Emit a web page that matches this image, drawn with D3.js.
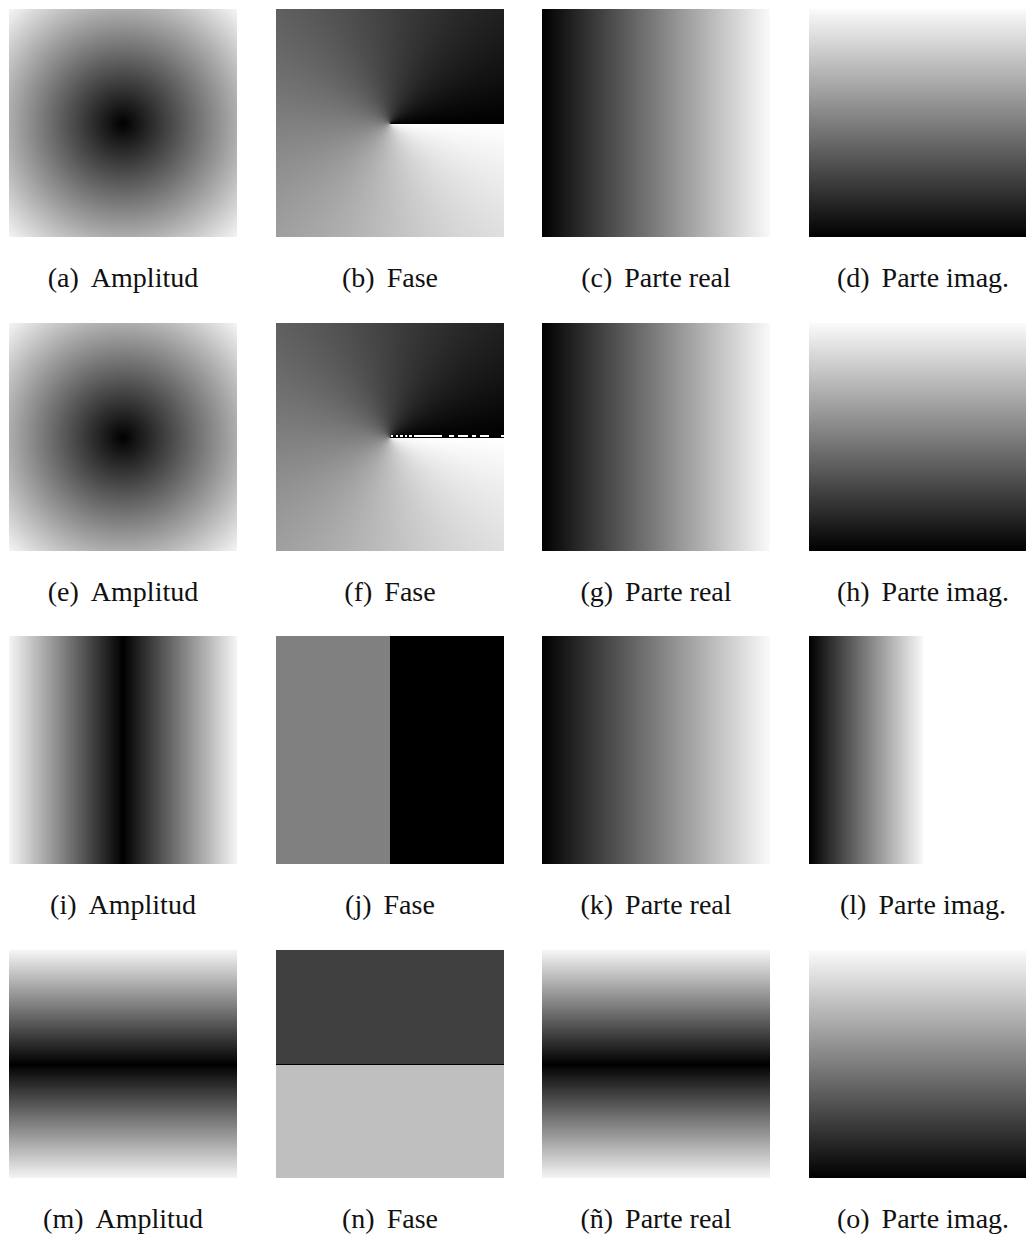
<!DOCTYPE html>
<html>
<head>
<meta charset="utf-8">
<script src="https://cdn.jsdelivr.net/npm/d3@7"></script>
<style>
  body { margin: 0; background: #fff; }
  svg { display: block; }
</style>
</head>
<body>
<svg id="fig" width="1026" height="1236"></svg>
<script>
// Sub-figure letters, in reading order (4 rows x 4 columns)
const letras = ["a", "b", "c", "d",
                "e", "f", "g", "h",
                "i", "j", "k", "l",
                "m", "n", "ñ", "o"];

// Component shown in each column
const componentes = ["Amplitud", "Fase", "Parte real", "Parte imag."];

// Scalar field shown in each panel, normalized to [0, 1]
//   radio  : |z| / |z|max          angulo : arg z / 2π in [0, 1)
//   x, y   : linear ramps          absx, absy : |x|, |y|
//   signox : arg of a real ramp    signoy : arg of an imaginary ramp
const campos = ["radio", "angulo", "x", "y",
                "radio", "angulo", "x", "y",
                "absx",  "signox", "x", "x",
                "absy",  "signoy", "absy", "y"];

// Gray level (0-255) at field value 0 and at field value 1
const tonos = [[0, 245], [0, 255], [0, 250], [0, 250],
               [0, 245], [0, 255], [0, 250], [0, 250],
               [0, 245], [0, 255], [0, 250], [0, 248],
               [0, 245], [0, 255], [0, 245], [0, 250]];

// Intervals of x (0..1 along the positive real axis) where the phase in (f)
// wraps to 2π on the row just above the cut
const ruidoCorte = [[0.01, 0.03], [0.05, 0.07], [0.09, 0.11], [0.13, 0.15],
                    [0.17, 0.19], [0.21, 0.46], [0.52, 0.56], [0.60, 0.68],
                    [0.72, 0.75], [0.79, 0.87], [0.97, 1.00]];

const campo = {
  radio:  (x, y) => Math.hypot(x, y) / Math.SQRT2,
  angulo: (x, y) => { let a = Math.atan2(y, x); if (a < 0) a += 2 * Math.PI; return a / (2 * Math.PI); },
  x:      (x, y) => (x + 1) / 2,
  y:      (x, y) => (y + 1) / 2,
  absx:   (x, y) => Math.abs(x),
  absy:   (x, y) => Math.abs(y),
  signox: (x, y) => (x < 0 ? 0.5 : 0),
  signoy: (x, y) => (Math.abs(y) < 1e-9 ? 0 : (y > 0 ? 0.25 : 0.75))
};

const svg = d3.select("#fig");
const lado = 228;
const colX = d3.scaleLinear().domain([0, 3]).range([9, 809]);
const filaY = d3.scaleLinear().domain([0, 3]).range([9, 950]);

letras.forEach((letra, k) => {
  const fila = Math.floor(k / 4), col = k % 4;
  const ancho = letra === "l" ? lado / 2 : lado;
  const alto = lado;

  // pixel -> complex-plane coordinates
  const xs = d3.scaleLinear().domain([-1, 1]).range([0, ancho]);
  const ys = d3.scaleLinear().domain([1, -1]).range([0, alto]);
  const gris = d3.scaleLinear().domain([0, 1]).range(tonos[k]).clamp(true);
  const f = campo[campos[k]];
  const paso = 2 / alto;

  const canvas = document.createElement("canvas");
  canvas.width = ancho; canvas.height = alto;
  const ctx = canvas.getContext("2d");
  const img = ctx.createImageData(ancho, alto);
  for (let j = 0; j < alto; j++) {
    let y = ys.invert(j);
    if (Math.abs(y) < 1e-9) y = 0;
    for (let i = 0; i < ancho; i++) {
      const x = xs.invert(i + 0.5);
      let t = f(x, y);
      if (letra === "f" && x > 0 && y > 0 && y <= 2 * paso + 1e-9 &&
          ruidoCorte.some(([a, b]) => x >= a && x <= b)) t = 1;
      const g = Math.round(gris(t));
      const p = 4 * (j * ancho + i);
      img.data[p] = img.data[p + 1] = img.data[p + 2] = g;
      img.data[p + 3] = 255;
    }
  }
  ctx.putImageData(img, 0, 0);

  const x0 = Math.round(colX(col)), y0 = Math.round(filaY(fila));
  svg.append("image")
    .attr("x", x0).attr("y", y0)
    .attr("width", ancho).attr("height", alto)
    .attr("href", canvas.toDataURL());

  const texto = svg.append("text")
    .attr("x", x0 + lado / 2)
    .attr("y", y0 + 278)
    .attr("text-anchor", "middle")
    .attr("font-family", "'Liberation Serif', serif")
    .attr("font-size", 28)
    .attr("fill", "#111");
  texto.append("tspan").text(`(${letra})`);
  texto.append("tspan").attr("dx", 12).text(componentes[col]);
});
</script>
</body>
</html>
